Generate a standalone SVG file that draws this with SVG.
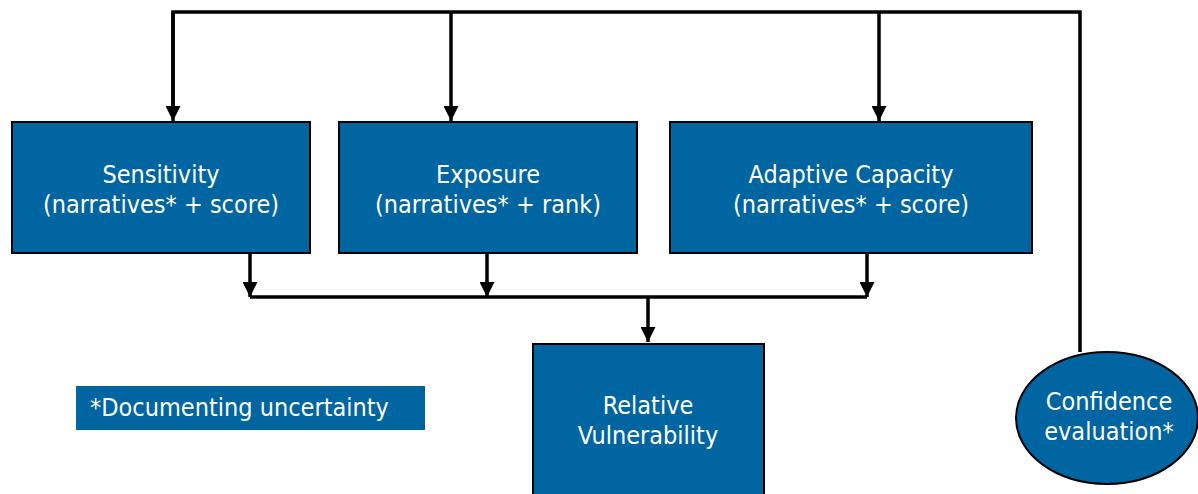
<svg xmlns="http://www.w3.org/2000/svg" width="1198" height="494" viewBox="0 0 1198 494">
<style>
.box{fill:#0065a0;stroke:#000;stroke-width:2}
.t{font-family:"DejaVu Sans Condensed","DejaVu Sans",sans-serif;font-size:25px;fill:#fff;text-anchor:middle}
.c{fill:none;stroke:#000;stroke-width:3.5}
</style>
<defs>
<marker id="ah" viewBox="0 0 12 12" refX="12" refY="6" markerWidth="15" markerHeight="15" markerUnits="userSpaceOnUse" orient="auto">
<path d="M0,0 L12,6 L0,12 Z" fill="#000"/>
</marker>
</defs>
<rect width="1198" height="494" fill="#fff"/>
<g id="connectors">
<polyline class="c" points="173,110 173,12 1080,12 1080,352"/>
<line class="c" x1="173" y1="12" x2="173" y2="121" marker-end="url(#ah)"/>
<line class="c" x1="451" y1="12" x2="451" y2="121" marker-end="url(#ah)"/>
<line class="c" x1="879" y1="12" x2="879" y2="121" marker-end="url(#ah)"/>
<line class="c" x1="250" y1="253" x2="250" y2="297" marker-end="url(#ah)"/>
<line class="c" x1="487" y1="253" x2="487" y2="297" marker-end="url(#ah)"/>
<line class="c" x1="867" y1="253" x2="867" y2="297" marker-end="url(#ah)"/>
<line class="c" x1="250" y1="297" x2="867" y2="297"/>
<line class="c" x1="648" y1="297" x2="648" y2="342" marker-end="url(#ah)"/>
</g>
<g id="sensitivity">
<rect class="box" x="12" y="122" width="298" height="131"/>
<text class="t" x="161" y="183">Sensitivity</text>
<text class="t" x="161" y="213">(narratives* + score)</text>
</g>
<g id="exposure">
<rect class="box" x="339" y="122" width="298" height="131"/>
<text class="t" x="488" y="183">Exposure</text>
<text class="t" x="488" y="213">(narratives* + rank)</text>
</g>
<g id="adaptive">
<rect class="box" x="670" y="122" width="362" height="131"/>
<text class="t" x="851" y="183">Adaptive Capacity</text>
<text class="t" x="851" y="213">(narratives* + score)</text>
</g>
<g id="relative">
<rect class="box" x="533" y="344" width="231" height="152"/>
<text class="t" x="648" y="414">Relative</text>
<text class="t" x="648" y="444">Vulnerability</text>
</g>
<g id="confidence">
<ellipse class="box" cx="1107" cy="418" rx="91" ry="66"/>
<text class="t" x="1109" y="410">Confidence</text>
<text class="t" x="1109" y="440">evaluation*</text>
</g>
<g id="note">
<rect x="76" y="386" width="349" height="44" fill="#0065a0"/>
<text class="t" x="90" y="416" style="text-anchor:start">*Documenting uncertainty</text>
</g>
</svg>
